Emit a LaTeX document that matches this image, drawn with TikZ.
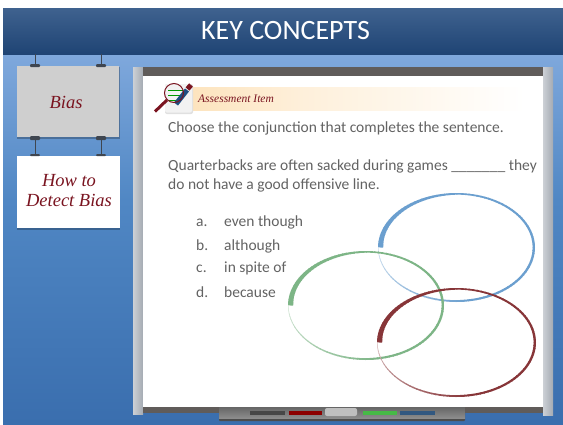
\documentclass[tikz,border=0pt]{standalone}
\usepackage{fontspec}
\setmainfont{Carlito}
\newfontfamily\handfont{Liberation Serif}
\definecolor{bodytext}{HTML}{636363}
\definecolor{handred}{HTML}{7A1420}
\definecolor{ringblue}{HTML}{6B9FCF}
\definecolor{ringgreen}{HTML}{7DB586}
\definecolor{ringred}{HTML}{873538}
\definecolor{boardgrey}{HTML}{A4AAB2}
\definecolor{boardlight}{HTML}{CCD0D5}
\definecolor{boarddark}{HTML}{605C5A}
\definecolor{hookdark}{HTML}{3F4650}
\definecolor{bgtop}{HTML}{7FA8DC}
\definecolor{bgmid}{HTML}{5087C4}
\definecolor{bgbot}{HTML}{3A6EAE}
\definecolor{headl}{HTML}{1F4474}
\definecolor{headm}{HTML}{3F628F}
\definecolor{panelgrey}{HTML}{CFCFCF}
\definecolor{peach}{HTML}{FDE3BC}
\definecolor{pencilblue}{HTML}{1F4E80}
\tikzset{
  x=1pt,y=-1pt,
  body/.style={anchor=base west,inner sep=0pt,text=bodytext,font=\fontsize{15.5}{18}\selectfont},
  hand/.style={text=handred,align=center,inner sep=0pt,font=\handfont\itshape\fontsize{18.5}{20}\selectfont},
  hookline/.style={draw=hookdark,line width=.8pt},
  hookbar/.style={fill=hookdark,rounded corners=1pt},
}
% brush ring: #1 cx, #2 cy, #3 rx, #4 ry, #5 colour
\newcommand{\brushring}[5]{%
  \foreach \t in {0,3,...,357}{%
    \pgfmathsetmacro{\wid}{\t<50?5.2-0.044*\t:(\t<90?3-0.035*(\t-50):(\t<180?1.6+0.009*(\t-90):(\t<260?2.4-0.005*(\t-180):2-0.016*(\t-260))))}%
    \pgfmathsetmacro{\pct}{\t<260?100:100-0.68*(\t-260)}%
    \pgfmathsetmacro{\aone}{180+\t}%
    \pgfmathsetmacro{\atwo}{180+\t+3.6}%
    \pgfmathsetmacro{\rxx}{#3-\wid/2}%
    \pgfmathsetmacro{\ryy}{#4-\wid/2}%
    \draw[line width=\wid pt,color=#5!\pct!white]
      ({#1+\rxx*cos(\aone)},{#2+\ryy*sin(\aone)}) -- ({#1+\rxx*cos(\atwo)},{#2+\ryy*sin(\atwo)});
  }%
}
\begin{document}
\begin{tikzpicture}
\useasboundingbox (0,0) rectangle (563,424);
\fill[white] (0,0) rectangle (563,424);
% slide background
\shade[top color=bgtop,bottom color=bgmid] (3,54) rectangle (563,200);
\shade[top color=bgmid,bottom color=bgbot] (3,200) rectangle (563,424);
% header
\shade[top color=headm,bottom color=headl] (3,8) rectangle (563,54);
\node[text=white,font=\fontsize{28}{32}\selectfont,inner sep=0pt] (title) at (285.5,31) {KEY CONCEPTS};
% hooks
\draw[hookline] (35,54) -- (35,65);
\draw[hookline] (101,54) -- (101,65);
\draw[hookline] (35,137) -- (35,155);
\draw[hookline] (101,137) -- (101,155);
% panels
\fill[black,opacity=.25] (17,67) rectangle (120,139);
\fill[black,opacity=.25] (17,157) rectangle (120,230);
\fill[panelgrey] (17,66) rectangle (119,137);
\fill[white] (17,156) rectangle (120,228);
\fill[hookbar] (30,64) rectangle (40,67);
\fill[hookbar] (96,64) rectangle (106,67);
\fill[hookbar] (30,136) rectangle (40,140);
\fill[hookbar] (96,136) rectangle (106,140);
\fill[hookbar] (30,154) rectangle (40,156);
\fill[hookbar] (96,154) rectangle (106,156);
\node[hand] (bias) at (66,102) {Bias};
\node[hand] (detect) at (69,190.5) {How to\\Detect Bias};
% whiteboard
\shade[left color=boardlight,right color=boardgrey] (133,67) rectangle (143,414);
\shade[left color=boardlight,right color=boardgrey] (543,67) rectangle (553,415);
\fill[white] (143,76) rectangle (543,407);
\fill[boarddark] (143,67) rectangle (543,75.5);
\fill[boarddark] (143,407) rectangle (543,413);
% tray
\fill[black!70,rounded corners=1pt] (219,407) rectangle (465,421);
\shade[top color=black!60,bottom color=black!45] (219,407) rectangle (465,418);
\fill[black!72] (250,410.5) rectangle (285,414.5);
\fill[red!55!black] (289,410.5) rectangle (322,414.5);
\fill[black!25,rounded corners=2pt] (325,408) rectangle (357,416);
\fill[green!45!gray] (363,410.5) rectangle (397,414.5);
\fill[pencilblue!80!gray] (400,410.5) rectangle (435,414.5);
% assessment banner
\shade[left color=peach,right color=peach!55!white] (185,87) rectangle (300,110);
\shade[left color=peach!55!white,right color=white] (300,87) rectangle (525,110);
\fill[black!12,rounded corners=2pt] (165,84) rectangle (193,114);
\fill[white!95!black,rounded corners=2pt] (165,84) rectangle (192,112.5);
\draw[green!60!black,line width=.6pt] (168,90) -- (183,90) (168,95) -- (180,95) (168,100) -- (178,100);
\draw[line width=5pt,pencilblue] (176,104) -- (187,90);
\draw[line width=5pt,handred] (187.5,89) -- (191,85);
\draw[line width=1pt,handred] (174,93) circle (9.5);
\draw[line width=3pt,handred] (167,100) -- (155,111.5);
\node[hand,anchor=west,font=\handfont\itshape\fontsize{11.5}{12}\selectfont] (assess) at (198,99) {Assessment Item};
% text
\node[body] (q1) at (168,132) {Choose the conjunction that completes the sentence.};
\node[body] (q2) at (168,170) {Quarterbacks are often sacked during games \_\_\_\_\_\_\_ they};
\node[body] (q3) at (168,189) {do not have a good offensive line.};
\node[body] (la) at (196,226) {a.};
\node[body] (ta) at (224,226) {even though};
\node[body] (lb) at (196,250) {b.};
\node[body] (tb) at (224,250) {although};
\node[body] (lc) at (196,272) {c.};
\node[body] (tc) at (224,272) {in spite of};
\node[body] (ld) at (196,297) {d.};
\node[body] (td) at (224,297) {because};
% rings
\brushring{456.5}{247.5}{78.5}{54.5}{ringblue}
\brushring{366}{305.5}{78}{54.5}{ringgreen}
\brushring{456.5}{342.5}{79.5}{54.5}{ringred}
\end{tikzpicture}
\end{document}
